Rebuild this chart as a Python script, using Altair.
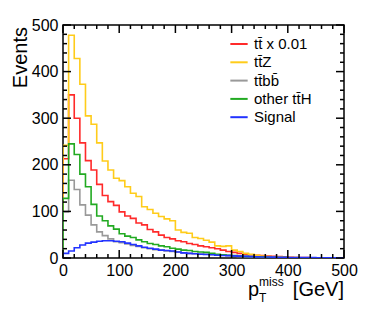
import altair as alt
import pandas as pd

bin_width = 10
n_bins = 50

series_names = ["tt\u0304 x 0.01", "tt\u0304Z", "tt\u0304bb\u0304", "other tt\u0304H", "Signal"]
series_colors = ["#ff2a2a", "#ffcc1a", "#999999", "#22aa22", "#2233ff"]

ttbar = [213, 350, 300, 247, 209, 189, 158, 134, 121, 113,
         99, 90, 85, 75, 71, 61, 56, 49, 44, 41,
         37, 35, 31, 29, 26, 24, 22, 20, 17, 14,
         12, 10, 8, 7, 6, 5, 4, 3.5, 3, 2.5,
         1.5, 1.2, 1, 0.8, 0.6, 0.5, 0.4, 0.3, 0.2, 0.2]
ttz = [242, 478, 428, 373, 305, 287, 247, 208, 189, 171,
       166, 153, 139, 132, 110, 104, 96, 89, 84, 80,
       60, 55, 53, 44, 42, 38, 34, 26, 25, 26,
       17, 14, 10, 8, 6, 4, 3, 2.5, 2, 1.5,
       1, 0.8, 0.6, 0.5, 0.4, 0.3, 0.3, 0.2, 0.2, 0.1]
ttbb = [99, 167, 147, 114, 92, 71, 56, 48, 41, 35,
        33, 30, 27, 25, 22, 20, 18, 17, 15, 14,
        13, 11, 10, 9, 8.5, 8, 7.5, 7, 6, 5,
        4, 3.5, 3, 2.5, 2, 1.5, 1.2, 1, 0.8, 0.7,
        0.6, 0.5, 0.4, 0.3, 0.3, 0.2, 0.2, 0.1, 0.1, 0.1]
other_tth = [128, 245, 222, 180, 153, 115, 90, 80, 69, 62,
             52, 47, 44, 39, 35, 31, 29, 26, 24, 21,
             19, 17, 16, 14, 13, 12, 10, 8, 7, 6,
             5, 4, 3.5, 3, 2.5, 2, 1.5, 1.2, 1, 0.8,
             0.6, 0.5, 0.4, 0.3, 0.3, 0.2, 0.2, 0.1, 0.1, 0.1]
signal = [10, 15, 22, 28, 32, 34, 36, 37, 37, 36,
          35, 32, 29, 26, 23, 21, 19, 17, 16, 15,
          13, 11, 10, 9, 8, 7.5, 7, 6, 5.5, 5,
          4.5, 4, 3.5, 3, 2.5, 2.2, 2, 1.8, 1.6, 1.4,
          1.2, 1, 0.9, 0.8, 0.7, 0.6, 0.5, 0.4, 0.3, 0.3]

major_ticks = [0, 100, 200, 300, 400, 500]
minor_ticks = [v for v in range(0, 501, 20) if v % 100 != 0]

y_title = ["Events"]
x_title_main = ["p"]
x_title_sub = ["T"]
x_title_sup = ["miss"]
x_title_unit = ["[GeV]"]

W, H = 281, 233
FONT = "Liberation Sans"

rows = []
for name, vals in zip(series_names, [ttbar, ttz, ttbb, other_tth, signal]):
    rows.append(dict(s=name, x=0, y=0, i=0))
    for k, v in enumerate(vals):
        rows.append(dict(s=name, x=k * bin_width, y=v, i=k + 1))
    rows.append(dict(s=name, x=n_bins * bin_width, y=vals[-1], i=n_bins + 1))
    rows.append(dict(s=name, x=n_bins * bin_width, y=0, i=n_bins + 2))
df = pd.DataFrame(rows)

xscale = alt.Scale(domain=[0, 500], nice=False, zero=False)
yscale = alt.Scale(domain=[0, 500], nice=False, zero=False)

xaxis = alt.Axis(values=major_ticks, labelFontSize=16, labelFont=FONT, ticks=False, tickSize=0,
                 domain=False, grid=False, title=None, labelPadding=4, labelColor="black",
                 labelFlush=False)
yaxis = alt.Axis(values=major_ticks, labelFontSize=16, labelFont=FONT, ticks=False, tickSize=0,
                 domain=False, grid=False, title=None, labelPadding=5, labelColor="black")

lines = alt.Chart(df).mark_line(interpolate="step-after", strokeWidth=1.6, clip=True).encode(
    x=alt.X("x:Q", scale=xscale, axis=xaxis),
    y=alt.Y("y:Q", scale=yscale, axis=yaxis),
    color=alt.Color("s:N", scale=alt.Scale(domain=series_names, range=series_colors),
                    legend=alt.Legend(orient="none", legendX=166, legendY=9, title=None,
                                      symbolType="stroke", symbolSize=300, symbolStrokeWidth=2,
                                      labelFontSize=15, labelFont=FONT, labelColor="black",
                                      rowPadding=0.3, labelOffset=5, padding=0)),
    order=alt.Order("i:Q"),
)

df_major = pd.DataFrame({"v": major_ticks})
df_minor = pd.DataFrame({"v": minor_ticks})

def xticks(d, L):
    bottom = alt.Chart(d).mark_rule(color="black", strokeWidth=1.5).encode(
        x=alt.X("v:Q", scale=xscale, axis=xaxis), y=alt.value(H), y2=alt.value(H - L))
    top = alt.Chart(d).mark_rule(color="black", strokeWidth=1.5).encode(
        x=alt.X("v:Q", scale=xscale, axis=xaxis), y=alt.value(0), y2=alt.value(L))
    return [bottom, top]

def yticks(d, L):
    left = alt.Chart(d).mark_rule(color="black", strokeWidth=1.5).encode(
        y=alt.Y("v:Q", scale=yscale, axis=yaxis), x=alt.value(0), x2=alt.value(L))
    right = alt.Chart(d).mark_rule(color="black", strokeWidth=1.5).encode(
        y=alt.Y("v:Q", scale=yscale, axis=yaxis), x=alt.value(W), x2=alt.value(W - L))
    return [left, right]

ticks = xticks(df_major, 8) + xticks(df_minor, 4) + yticks(df_major, 8) + yticks(df_minor, 4)

def label(txt, x, y, size, align, angle=0):
    return alt.Chart(pd.DataFrame({"t": txt})).mark_text(
        font=FONT, fontSize=size, align=align, baseline="alphabetic", angle=angle, color="black"
    ).encode(text="t:N", x=alt.value(x), y=alt.value(y))

texts = [
    label(y_title, -36, 2, 20, "right", 270),
    label(x_title_unit, W, 271, 20, "right"),
    label(x_title_main, 196, 271, 20, "right"),
    label(x_title_sub, 196, 277, 12, "left"),
    label(x_title_sup, 196, 261, 12, "left"),
]

chart = alt.layer(lines, *ticks, *texts).properties(
    width=W, height=H,
    autosize=alt.AutoSizeParams(type="none"),
    padding={"left": 55, "top": 17, "right": 20, "bottom": 50},
).configure_view(stroke="black", strokeWidth=1.5)

chart.save("out.html", embed_options={"renderer": "svg", "actions": False})
